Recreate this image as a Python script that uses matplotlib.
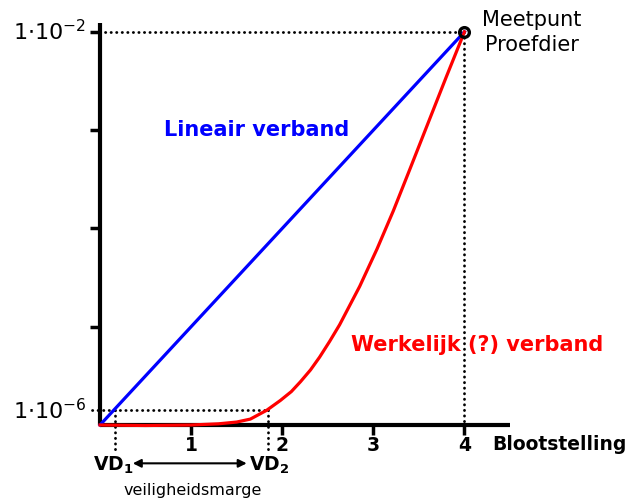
import matplotlib.pyplot as plt

plt.rcParams["mathtext.fontset"] = "dejavusans"

# =========================
# DATA (y in decades above the lowest level)
# =========================
x_ticks = [1, 2, 3, 4]
x_tick_labels = ["1", "2", "3", "4"]
y_ticks = [1, 2, 3, 4]

linear_x = [0, 4]
linear_y = [0, 4]

real_x = [0, 0.5, 1.0, 1.3, 1.5, 1.65, 1.83, 1.98, 2.10, 2.20, 2.31, 2.41, 2.52,
          2.63, 2.85, 3.04, 3.22, 3.40, 3.60, 3.80, 4.0]
real_y = [0, -0.005, 0, 0.012, 0.03, 0.06, 0.15, 0.25, 0.34, 0.44, 0.56, 0.69, 0.85,
          1.02, 1.41, 1.79, 2.18, 2.60, 3.07, 3.54, 4.0]

meetpunt = (4, 4)
level_low = 0.15
vd1 = 0.16
vd2 = 1.84

# =========================
# FIGURE
# =========================
fig = plt.figure(figsize=(6.3, 5.0), dpi=100)
ax = fig.add_axes([100 / 630, 75 / 500, 410 / 630, 402 / 500])

ax.set_xlim(0, 4.5)
ax.set_ylim(0, 4.09)

for side in ["top", "right"]:
    ax.spines[side].set_visible(False)
for side in ["left", "bottom"]:
    ax.spines[side].set_linewidth(3)
    ax.spines[side].set_capstyle("butt")

ax.set_xticks(x_ticks)
ax.set_xticklabels(x_tick_labels, fontsize=13.5, fontweight="bold")
ax.set_yticks(y_ticks)
ax.set_yticklabels([])
ax.tick_params(axis="x", direction="out", length=7, width=2.5, pad=1)
ax.tick_params(axis="y", direction="out", length=7, width=2.5)

dot = dict(color="black", linestyle=(0, (0.1, 1.9)), linewidth=2.0,
           dash_capstyle="round", clip_on=False, zorder=2)

# dotted guide lines
ax.plot([0.05, meetpunt[0]], [meetpunt[1], meetpunt[1]], **dot)
ax.plot([meetpunt[0], meetpunt[0]], [meetpunt[1], 0], **dot)
ax.plot([-0.09, vd2], [level_low, level_low], **dot)
ax.plot([vd1, vd1], [level_low, -0.26], **dot)
ax.plot([vd2, vd2], [level_low, -0.26], **dot)

# curves
ax.plot(linear_x, linear_y, color="#0000ff", linewidth=2.3, clip_on=False, zorder=3)
ax.plot(real_x, real_y, color="#ff0000", linewidth=2.3, clip_on=False, zorder=3,
        solid_joinstyle="round")
ax.plot(*meetpunt, marker="o", markersize=7, markerfacecolor="none",
        markeredgecolor="black", markeredgewidth=2.4, clip_on=False, zorder=4)

# y labels
ax.text(-0.15, 4.0, r"$1{\cdot}10^{-2}$", fontsize=16, ha="right", va="center", clip_on=False)
ax.text(-0.15, level_low, r"$1{\cdot}10^{-6}$", fontsize=16, ha="right", va="center", clip_on=False)

# annotations
ax.text(1.72, 3.0, "Lineair verband", color="#0000ff", fontsize=15,
        fontweight="bold", ha="center", va="center")
ax.text(4.14, 0.81, "Werkelijk (?) verband", color="#ff0000", fontsize=15,
        fontweight="bold", ha="center", va="center", clip_on=False)
ax.text(4.74, 3.99, "Meetpunt\nProefdier", fontsize=15, ha="center",
        va="center", linespacing=1.3, clip_on=False)
ax.text(5.78, -0.2, "Blootstelling", fontsize=13.5, fontweight="bold",
        ha="right", va="center", clip_on=False)

ax.text(vd1 - 0.01, -0.41, r"$\mathbf{VD}_\mathbf{1}$", fontsize=13.5,
        ha="center", va="center", clip_on=False)
ax.text(vd2 + 0.02, -0.41, r"$\mathbf{VD}_\mathbf{2}$", fontsize=13.5,
        ha="center", va="center", clip_on=False)
ax.annotate("", xy=(1.61, -0.39), xytext=(0.36, -0.39),
            arrowprops=dict(arrowstyle="<|-|>", color="black", lw=1.5,
                            mutation_scale=12, shrinkA=0, shrinkB=0),
            annotation_clip=False)
ax.text(1.02, -0.67, "veiligheidsmarge", fontsize=11.5, ha="center",
        va="center", clip_on=False)

plt.savefig("out.png", dpi=100)
plt.close()
